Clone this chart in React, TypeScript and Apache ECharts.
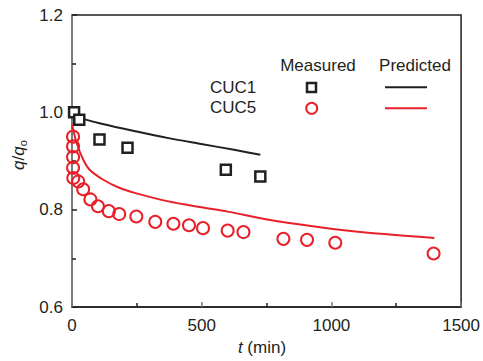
import React, { useEffect, useRef } from "react";
import * as echarts from "echarts";

const cuc1Measured: [number, number][] = [
  [8, 1.0], [28, 0.985], [106, 0.944], [214, 0.927], [593, 0.882], [726, 0.868],
];
const cuc5Measured: [number, number][] = [
  [4, 0.950], [4, 0.930], [4, 0.908], [4, 0.886], [5, 0.865], [24, 0.858], [43, 0.842],
  [71, 0.821], [100, 0.807], [142, 0.797], [182, 0.791], [248, 0.786], [321, 0.775],
  [391, 0.771], [451, 0.768], [505, 0.762], [600, 0.757], [661, 0.754], [815, 0.740],
  [906, 0.738], [1015, 0.732], [1394, 0.710],
];
const cuc1Predicted: [number, number][] = [
  [0, 1.0], [30, 0.989], [119, 0.976], [245, 0.961], [372, 0.947], [498, 0.935],
  [625, 0.923], [726, 0.913],
];
const cuc5Predicted: [number, number][] = [
  [0, 0.975], [5, 0.964], [18, 0.937], [43, 0.903], [68, 0.882], [119, 0.862],
  [182, 0.845], [245, 0.834], [372, 0.817], [498, 0.805], [600, 0.796], [752, 0.780],
  [942, 0.765], [1131, 0.753], [1397, 0.742],
];
const xTicks = [0, 500, 1000, 1500];
const yTicks = [0.6, 0.8, 1.0, 1.2];

const BLACK = "#231f20";
const RED = "#e8202a";
const FONT = "Liberation Sans, Arial, sans-serif";

export default function App() {
  const ref = useRef<HTMLDivElement>(null);
  useEffect(() => {
    if (!ref.current) return;
    const chart = echarts.init(ref.current, null, { renderer: "svg" });
    const axisLabel = { fontSize: 17, color: BLACK, fontFamily: FONT };
    chart.setOption({
      animation: false,
      grid: {
        left: 72, top: 15, right: 16, bottom: 54,
        show: true, borderColor: BLACK, borderWidth: 1.5,
      },
      xAxis: {
        type: "value",
        min: xTicks[0], max: xTicks[xTicks.length - 1], interval: 500,
        axisLine: { show: true, lineStyle: { color: BLACK, width: 1.5 } },
        axisTick: { show: true, inside: true, length: 5, lineStyle: { color: "#777", width: 1.5 } },
        minorTick: { show: true, splitNumber: 2, length: 4, lineStyle: { color: BLACK, width: 1.5 } },
        splitLine: { show: false },
        axisLabel: { ...axisLabel, margin: 10, formatter: (v: number) => String(v) },
      },
      yAxis: {
        type: "value",
        min: yTicks[0], max: yTicks[yTicks.length - 1], interval: 0.2,
        axisLine: { show: true, lineStyle: { color: "#888", width: 1.5 } },
        axisTick: { show: true, inside: true, length: 5, lineStyle: { color: BLACK, width: 1.5 } },
        minorTick: { show: true, splitNumber: 2, length: 4, lineStyle: { color: BLACK, width: 1.5 } },
        splitLine: { show: false },
        axisLabel: { ...axisLabel, margin: 9, formatter: (v: number) => v.toFixed(1) },
      },
      series: [
        {
          type: "line", data: cuc1Predicted, smooth: 0.3, symbol: "none",
          lineStyle: { color: BLACK, width: 2 }, z: 2,
        },
        {
          type: "line", data: cuc5Predicted, smooth: 0.3, symbol: "none",
          lineStyle: { color: RED, width: 2 }, z: 2,
        },
        {
          type: "scatter", data: cuc1Measured, symbol: "rect", symbolSize: 10,
          itemStyle: { color: "#fff", borderColor: BLACK, borderWidth: 2.5, opacity: 1 }, z: 3,
        },
        {
          type: "scatter", data: cuc5Measured, symbol: "circle", symbolSize: 12,
          itemStyle: { color: "rgba(255,255,255,0)", borderColor: RED, borderWidth: 2, opacity: 1 }, z: 3,
        },
      ],
      graphic: [
        {
          type: "text", x: 262, y: 347,
          style: {
            text: "{i|t} (min)", fontSize: 17, fill: BLACK, fontFamily: FONT,
            align: "center", verticalAlign: "middle",
            rich: { i: { fontStyle: "italic", fontSize: 17, fill: BLACK, fontFamily: FONT } },
          },
        },
        {
          type: "text", x: 18, y: 155, rotation: Math.PI / 2,
          style: {
            text: "{i|q}/{i|q}{s|o}", fontSize: 17, fill: BLACK, fontFamily: FONT,
            align: "center", verticalAlign: "middle",
            rich: {
              i: { fontStyle: "italic", fontSize: 17, fontFamily: FONT, lineHeight: 20 },
              s: { fontSize: 11, fontFamily: FONT, verticalAlign: "bottom", lineHeight: 14 },
            },
          },
        },
        {
          type: "text", x: 318, y: 65,
          style: { text: "Measured", fontSize: 17, fill: BLACK, fontFamily: FONT, align: "center", verticalAlign: "middle" },
        },
        {
          type: "text", x: 415, y: 65,
          style: { text: "Predicted", fontSize: 17, fill: BLACK, fontFamily: FONT, align: "center", verticalAlign: "middle" },
        },
        {
          type: "text", x: 210, y: 87,
          style: { text: "CUC1", fontSize: 17, fill: BLACK, fontFamily: FONT, align: "left", verticalAlign: "middle" },
        },
        {
          type: "text", x: 210, y: 107,
          style: { text: "CUC5", fontSize: 17, fill: BLACK, fontFamily: FONT, align: "left", verticalAlign: "middle" },
        },
        {
          type: "rect", shape: { x: 307, y: 83, width: 9, height: 9 },
          style: { fill: "#fff", stroke: BLACK, lineWidth: 2.5 },
        },
        {
          type: "circle", shape: { cx: 311.7, cy: 108.3, r: 5.5 },
          style: { fill: "none", stroke: RED, lineWidth: 2 },
        },
        {
          type: "line", shape: { x1: 385, y1: 87.3, x2: 427, y2: 87.3 },
          style: { stroke: BLACK, lineWidth: 2 },
        },
        {
          type: "line", shape: { x1: 385, y1: 108.3, x2: 427, y2: 108.3 },
          style: { stroke: RED, lineWidth: 2 },
        },
      ],
    });
    return () => chart.dispose();
  }, []);
  return (
    <div
      ref={ref}
      style={{ position: "fixed", left: 0, top: 0, width: 483, height: 361, background: "#fff" }}
    />
  );
}
